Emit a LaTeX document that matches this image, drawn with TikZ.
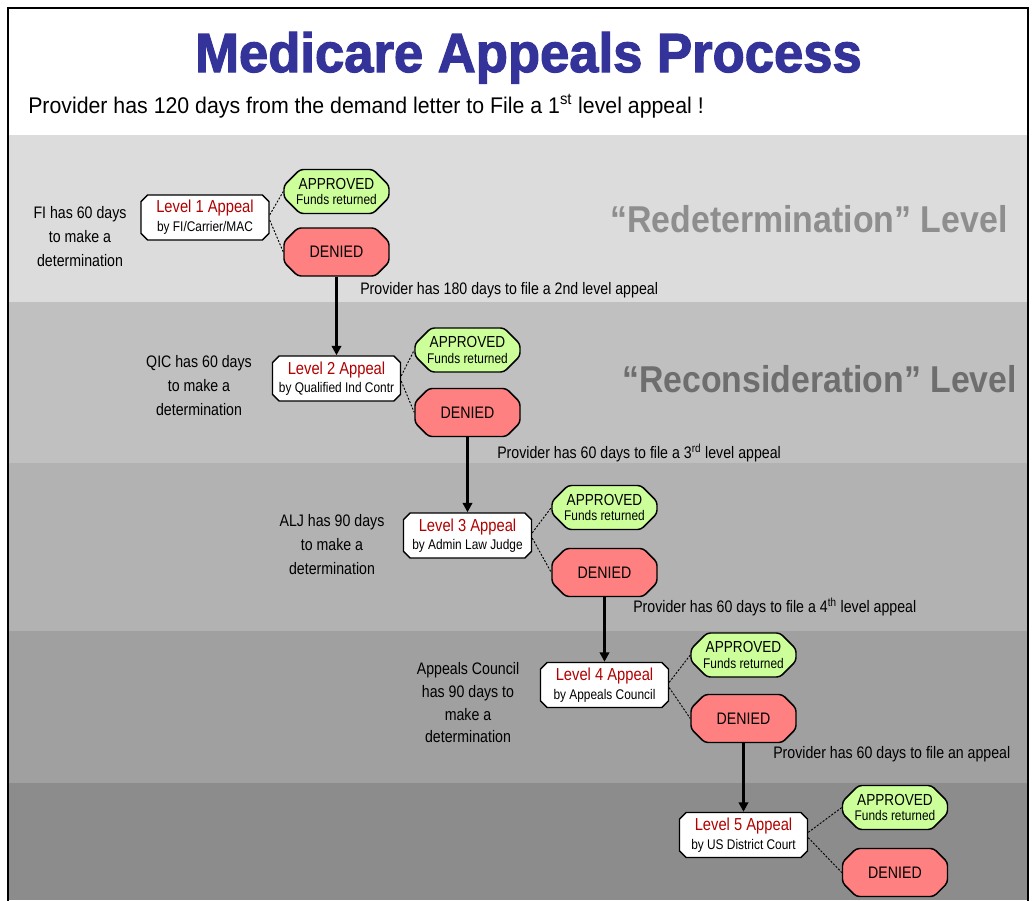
\documentclass[tikz,border=0pt]{standalone}
\usepackage{graphicx}
\usepackage{fontspec}
\setmainfont{Liberation Sans}
\newfontfamily\nf[FakeStretch=0.85]{Liberation Sans}
\newfontfamily\nfw[FakeStretch=0.94]{Liberation Sans}
\newfontfamily\titlef[FakeBold=2.2]{Liberation Sans Bold}
\usetikzlibrary{shapes.misc,arrows.meta}
\definecolor{band1}{HTML}{DCDCDC}
\definecolor{band2}{HTML}{C0C0C0}
\definecolor{band3}{HTML}{B2B2B2}
\definecolor{band4}{HTML}{A0A0A0}
\definecolor{band5}{HTML}{8C8C8C}
\definecolor{titleblue}{HTML}{333399}
\definecolor{lvred}{HTML}{B00000}
\definecolor{apgreen}{HTML}{CCFF99}
\definecolor{dnpink}{HTML}{FF8080}
\definecolor{lblA}{HTML}{8E8E8E}
\definecolor{lblB}{HTML}{6E6E6E}
\newcommand\lvltext[2]{{\color{lvred}\fontsize{13}{14}\selectfont #1}\\{\fontsize{10.5}{14}\selectfont #2}}
\newcommand\apprtext{{\fontsize{12}{12}\selectfont APPROVED}\\Funds returned}
\begin{document}
\begin{tikzpicture}[x=0.75pt,y=-0.75pt,
  lvl/.style={chamfered rectangle, chamfered rectangle xsep=2.5pt, chamfered rectangle ysep=2.5pt,
    draw, line width=1.1pt, fill=white, minimum width=96pt, minimum height=33.75pt,
    inner sep=0pt, align=center, font=\nf\fontsize{11}{14}\selectfont},
  res/.style={chamfered rectangle, chamfered rectangle xsep=6pt, chamfered rectangle ysep=6pt,
    rounded corners=2.5pt, draw, line width=1.1pt, minimum width=78.75pt, inner sep=0pt, align=center},
  appr/.style={res, fill=apgreen, minimum height=33pt, font=\nf\fontsize{10.5}{11.5}\selectfont},
  deny/.style={res, fill=dnpink, minimum height=36pt, font=\nf\fontsize{12.5}{14}\selectfont},
  note/.style={align=center, inner sep=0pt, font=\nf\fontsize{12.5}{18}\selectfont},
  days/.style={anchor=west, inner sep=0pt, font=\nf\fontsize{12.5}{14}\selectfont},
  conn/.style={line width=0.7pt, dash pattern=on 1.5pt off 1.2pt},
  flow/.style={line width=2.2pt, -{Triangle[length=7pt,width=7pt]}}
]
\useasboundingbox (0,0) rectangle (1032,900);
\fill[white] (0,0) rectangle (1032,900);
% bands
\fill[band1] (8,135) rectangle (1028,302);
\fill[band2] (8,302) rectangle (1028,463);
\fill[band3] (8,463) rectangle (1028,631);
\fill[band4] (8,631) rectangle (1028,783);
\fill[band5] (8,783) rectangle (1028,900);
\draw[line width=1.5pt] (8,902) -- (8,8) -- (1028,8) -- (1028,902);
% title
\node[anchor=base, inner sep=0pt, text=titleblue] (title) at (528.5,72)
  {\resizebox{500pt}{30pt}{\titlef Medicare Appeals Process}};
\node[anchor=base west, inner sep=0pt, font=\nfw\fontsize{17}{20}\selectfont] (sub) at (28,113)
  {Provider has 120 days from the demand letter to File a 1\textsuperscript{st} level appeal !};
% band labels
\node[anchor=base, inner sep=0pt, text=lblA] (redet) at (809,232)
  {\resizebox{298pt}{20.3pt}{\bfseries “Redetermination” Level}};
\node[anchor=base, inner sep=0pt, text=lblB] (recon) at (819.5,392)
  {\resizebox{296pt}{20.3pt}{\bfseries “Reconsideration” Level}};
% level 1
\node[lvl] (L1) at (205,217.5) {\lvltext{Level 1 Appeal}{by FI/Carrier/MAC}};
\node[appr] (A1) at (336.5,191.5) {\apprtext};
\node[deny] (D1) at (336.5,252) {DENIED};
\node[note] (n1) at (80,237) {FI has 60 days\\to make a\\determination};
% level 2
\node[lvl] (L2) at (336.5,378.5) {\lvltext{Level 2 Appeal}{by Qualified Ind Contr}};
\node[appr] (A2) at (467.5,350) {\apprtext};
\node[deny] (D2) at (467.5,412.5) {DENIED};
\node[note] (n2) at (199,386) {QIC has 60 days\\to make a\\determination};
% level 3
\node[lvl] (L3) at (467.5,535.5) {\lvltext{Level 3 Appeal}{by Admin Law Judge}};
\node[appr] (A3) at (604.5,507.5) {\apprtext};
\node[deny] (D3) at (604.5,572.5) {DENIED};
\node[note] (n3) at (332,545) {ALJ has 90 days\\to make a\\determination};
% level 4
\node[lvl] (L4) at (604.5,685) {\lvltext{Level 4 Appeal}{by Appeals Council}};
\node[appr] (A4) at (743.5,655) {\apprtext};
\node[deny] (D4) at (743.5,718.5) {DENIED};
\node[note, font=\nf\fontsize{12.5}{17}\selectfont] (n4) at (468,703) {Appeals Council\\has 90 days to\\make a\\determination};
% level 5
\node[lvl] (L5) at (743.5,835) {\lvltext{Level 5 Appeal}{by US District Court}};
\node[appr] (A5) at (895,807.5) {\apprtext};
\node[deny] (D5) at (895,872.5) {DENIED};
% provider labels
\node[days] (p1) at (360,290) {Provider has 180 days to file a 2nd level appeal};
\node[days] (p2) at (497,453) {Provider has 60 days to file a 3\textsuperscript{rd} level appeal};
\node[days] (p3) at (633,607) {Provider has 60 days to file a 4\textsuperscript{th} level appeal};
\node[days] (p4) at (773,754) {Provider has 60 days to file an appeal};
% connectors
\foreach \i in {1,...,5}{
  \draw[conn] ([yshift=2pt]L\i.east) -- (A\i.west);
  \draw[conn] ([yshift=-2pt]L\i.east) -- (D\i.west);
}
\draw[flow] (D1.south) -- (L2.north);
\draw[flow] (D2.south) -- (L3.north);
\draw[flow] (D3.south) -- (L4.north);
\draw[flow] (D4.south) -- (L5.north);
\end{tikzpicture}
\end{document}
